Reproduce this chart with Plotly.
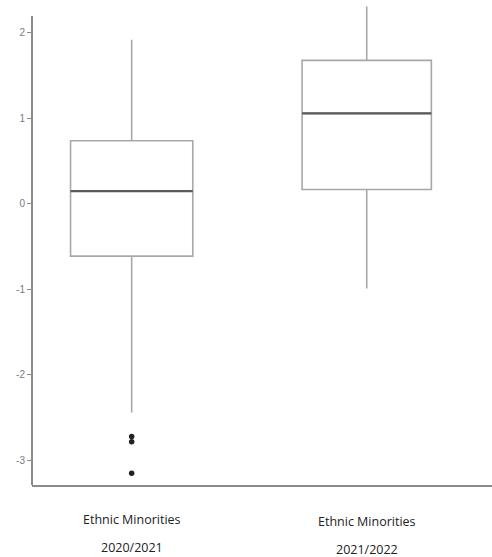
import plotly.graph_objects as go

categories = ["Ethnic Minorities 2020/2021", "Ethnic Minorities 2021/2022"]
label_line1 = ["Ethnic Minorities", "Ethnic Minorities"]
label_line2 = ["2020/2021", "2021/2022"]
lower_whisker = [-2.44, -0.99]
q1 = [-0.61, 0.17]
median = [0.15, 1.06]
q3 = [0.74, 1.68]
upper_whisker = [1.92, 2.31]
outliers = [[-2.72, -2.78, -3.15], []]
box_widths = [0.52, 0.55]
y_ticks = [-3, -2, -1, 0, 1, 2]
y_tick_text = ["-3", "-2", "-1", "0", "1", "2"]

fig = go.Figure()
for i, cat in enumerate(categories):
    fig.add_trace(go.Box(
        x=[cat], q1=[q1[i]], median=[median[i]], q3=[q3[i]],
        lowerfence=[lower_whisker[i]], upperfence=[upper_whisker[i]],
        width=box_widths[i], whiskerwidth=0,
        line=dict(color="#a8a8a8", width=1.6),
        fillcolor="rgba(255,255,255,0)", showlegend=False,
        hoverinfo="skip",
    ))
    if outliers[i]:
        fig.add_trace(go.Scatter(
            x=[cat] * len(outliers[i]), y=outliers[i], mode="markers",
            marker=dict(color="#222222", size=5.5), showlegend=False,
            hoverinfo="skip",
        ))
    # darker median line
    fig.add_shape(type="line", xref="x", yref="y",
                  x0=i - box_widths[i] / 2, x1=i + box_widths[i] / 2,
                  y0=median[i], y1=median[i],
                  line=dict(color="#5a5a5a", width=2.2))
    fig.add_annotation(x=cat, xref="x", y=0, yref="paper", yanchor="middle",
                       yshift=-34 - i * 2, text=label_line1[i], showarrow=False,
                       font=dict(family="Open Sans", size=12.5, color="#222222"))
    fig.add_annotation(x=cat, xref="x", y=0, yref="paper", yanchor="middle",
                       yshift=-62 - i * 2, text=label_line2[i], showarrow=False,
                       font=dict(family="Open Sans", size=12.5, color="#222222"))

y_range = [-3.287, 2.339]
# y axis line (ends below the plot top, as in the reference)
fig.add_shape(type="line", xref="paper", yref="y", x0=0, x1=0,
              y0=y_range[0], y1=2.199, line=dict(color="#8c8c8c", width=2))

fig.update_layout(
    width=492, height=557,
    margin=dict(l=32, r=0, t=4, b=72),
    paper_bgcolor="white", plot_bgcolor="white",
    boxmode="overlay",
    xaxis=dict(type="category", range=[-0.424, 1.533], showline=True,
               linecolor="#8c8c8c", linewidth=2, showticklabels=False,
               showgrid=False, zeroline=False, ticks="", automargin=False),
    yaxis=dict(range=y_range, tickvals=y_ticks, ticktext=y_tick_text,
               showgrid=False, zeroline=False, automargin=False,
               showline=False, ticks="outside", ticklen=4, tickcolor="#8c8c8c",
               tickfont=dict(family="Liberation Sans", size=10, color="#7a7a8a")),
)

fig.write_html("out.html", config={"displayModeBar": False},
               post_script="document.body.style.margin='0';")
